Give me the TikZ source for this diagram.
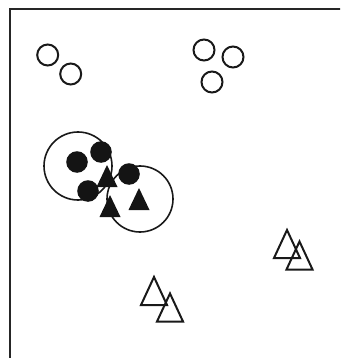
\documentclass[tikz,border=0pt]{standalone}
\begin{document}
\begin{tikzpicture}[x=1pt,y=-1pt,
  ring/.style={draw=black!90,line width=2pt,fill=none},
  bigring/.style={draw=black!90,line width=1.6pt},
  dot/.style={fill=black!92},
  otri/.pic={\draw[line width=2pt,line join=miter,draw=black!90] (-13,14)--(0,-14)--(13,14)--cycle;},
  ftri/.pic={\fill[black!92] (-10.5,11)--(0,-11)--(10.5,11)--cycle;}]
\useasboundingbox (0,0) rectangle (340,358);
\begin{scope}
\clip (0,0) rectangle (340,358);
\draw[line width=2pt,draw=black!85] (10,9) rectangle (350,370);
\end{scope}
% open circles
\draw[ring] (47.7,55) circle (10.5);
\draw[ring] (70.7,74) circle (10.5);
\draw[ring] (204,50) circle (10.5);
\draw[ring] (233,57) circle (10.5);
\draw[ring] (212,82) circle (10.5);
% big circles
\draw[bigring] (78,166) circle (34);
\draw[bigring] (140,199) circle (33);
% filled circles
\fill[dot] (77,162) circle (10.8);
\fill[dot] (101,152) circle (10.8);
\fill[dot] (88,191) circle (10.8);
\fill[dot] (129,174) circle (10.8);
% filled triangles
\pic at (107,176) {ftri};
\pic at (110,206) {ftri};
\pic at (139,199) {ftri};
% open triangles
\pic at (287,244) {otri};
\pic at (299.5,255.5) {otri};
\pic at (154,291) {otri};
\pic at (170,307.5) {otri};
\end{tikzpicture}
\end{document}
